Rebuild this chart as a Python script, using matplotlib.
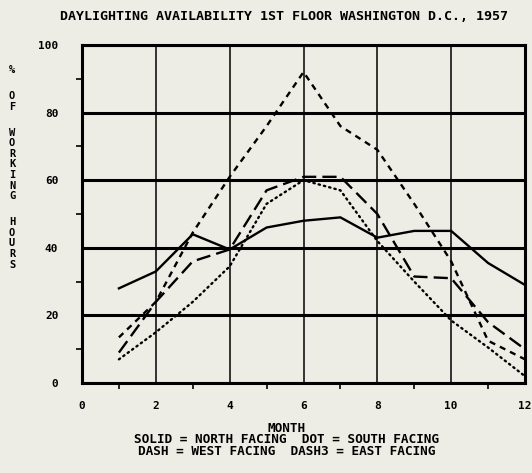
import matplotlib

matplotlib.use("Agg")
import matplotlib.pyplot as plt
from matplotlib.ticker import MultipleLocator

# values (% of working hours), months 1..12
months = [1, 2, 3, 4, 5, 6, 7, 8, 9, 10, 11, 12]
north = [28, 33, 44, 39.5, 46, 48, 49, 43, 45, 45, 35.5, 29]
south = [7, 15, 24, 34.5, 53, 60, 57, 42, 30, 18.5, 10.5, 2]
west = [13.5, 24, 44.5, 61, 76, 92, 76, 69, 53, 36, 12.5, 7]
east = [9, 24, 36, 39.5, 57, 61, 61, 50, 31.5, 31, 18, 10]

x_ticks = [0, 2, 4, 6, 8, 10, 12]
y_ticks = [0, 20, 40, 60, 80, 100]

TITLE = "DAYLIGHTING AVAILABILITY 1ST FLOOR WASHINGTON D.C., 1957"
YLABEL_WORDS = ["%", "OF", "WORKING", "HOURS"]
LEGEND = [
    "MONTH",
    "SOLID = NORTH FACING  DOT = SOUTH FACING",
    "DASH = WEST FACING  DASH3 = EAST FACING",
]

BG = "#eeede5"
FONT = dict(family="DejaVu Sans Mono", weight="bold", color="black")

fig = plt.figure(figsize=(5.32, 4.73), dpi=100, facecolor=BG)
ax = fig.add_axes([82 / 532, 1 - 383 / 473, 443 / 532, 338 / 473])
ax.set_facecolor(BG)

ax.plot(months, north, color="black", lw=1.7, solid_joinstyle="miter")
ax.plot(months, south, color="black", lw=1.7, linestyle=(0, (0.6, 1.7)),
        dash_capstyle="round")
ax.plot(months, west, color="black", lw=1.7, linestyle=(0, (2.6, 2.2)))
ax.plot(months, east, color="black", lw=1.7, linestyle=(0, (6.0, 2.6)))

ax.set_xlim(0, 12)
ax.set_ylim(0, 100)
ax.set_xticks(x_ticks)
ax.set_xticklabels([str(v) for v in x_ticks])
ax.set_yticks(y_ticks)
ax.set_yticklabels([str(v) for v in y_ticks])
ax.xaxis.set_minor_locator(MultipleLocator(1))
ax.yaxis.set_minor_locator(MultipleLocator(10))

ax.grid(axis="y", which="major", color="black", lw=2.2)
ax.grid(axis="x", which="major", color="black", lw=1.1)
ax.tick_params(which="major", length=0, labelsize=8)
ax.tick_params(axis="x", which="major", pad=13)
ax.tick_params(axis="y", which="major", pad=17)
ax.tick_params(which="minor", direction="out", length=4, width=1.2, color="black")
for lab in ax.get_xticklabels() + ax.get_yticklabels():
    lab.set_fontfamily(FONT["family"])
    lab.set_fontweight("bold")
for spine in ax.spines.values():
    spine.set_linewidth(2.2)
    spine.set_color("black")

fig.text(284 / 532, 1 - 16 / 473, TITLE, ha="center", va="center", fontsize=9.6, **FONT)

# stacked vertical y label
y = 70
for word in YLABEL_WORDS:
    for ch in word:
        fig.text(12 / 532, 1 - y / 473, ch, ha="center", va="center", fontsize=7.5, **FONT)
        y += 10.6
    y += 15.4

for i, line in enumerate(LEGEND):
    fig.text(287 / 532, 1 - (428 + 11.5 * i) / 473, line, ha="center", va="center",
             fontsize=9.2, **FONT)

fig.savefig("out.png", dpi=100, facecolor=BG)
